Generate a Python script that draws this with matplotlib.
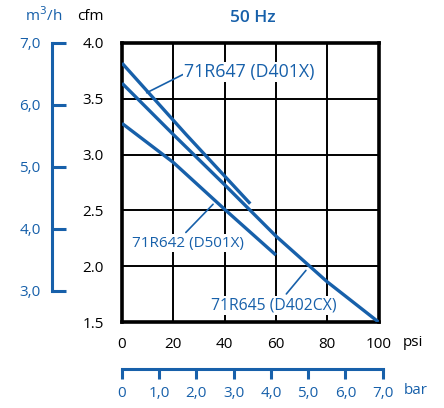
import numpy as np
import matplotlib.pyplot as plt

plt.rcParams['font.family'] = ['Open Sans', 'DejaVu Sans']

blue = '#1760aa'
W, H = 444, 408

# curves (psi, cfm)
psi_647 = [0, 25, 50]
cfm_647 = [3.82, 3.18, 2.56]
psi_642 = [0, 20, 40, 60]
cfm_642 = [3.28, 2.93, 2.51, 2.10]
psi_645 = [0, 20, 40, 60, 80, 100]
cfm_645 = [3.64, 3.18, 2.73, 2.27, 1.86, 1.5]

psi_ticks = [0, 20, 40, 60, 80, 100]
cfm_ticks = [1.5, 2.0, 2.5, 3.0, 3.5, 4.0]
m3h_ticks = [3.0, 4.0, 5.0, 6.0, 7.0]
bar_ticks = [0, 1, 2, 3, 4, 5, 6, 7]


def box(x0, y0, x1, y1):
    # pixel box (top-left origin) -> figure fraction
    return [x0 / W, 1 - y1 / H, (x1 - x0) / W, (y1 - y0) / H]


fig = plt.figure(figsize=(W / 100, H / 100), dpi=100)

ax = fig.add_axes(box(122, 43, 378.5, 322))
ax.plot(psi_647, cfm_647, color=blue, lw=2.4, solid_capstyle='butt', zorder=3)
ax.plot(psi_642, cfm_642, color=blue, lw=2.4, solid_capstyle='butt', zorder=3)
ax.plot(psi_645, cfm_645, color=blue, lw=2.4, solid_capstyle='butt', zorder=3)
ax.set_xlim(0, 100)
ax.set_ylim(1.5, 4.0)
ax.set_xticks(psi_ticks)
ax.set_yticks(cfm_ticks)
ax.set_yticklabels(['%.1f' % v for v in cfm_ticks])
ax.tick_params(length=0, labelsize=11, colors='black')
ax.tick_params(axis='y', pad=13)
ax.tick_params(axis='x', pad=11)
ax.grid(True, color='black', lw=1.4)
for s in ax.spines.values():
    s.set_linewidth(2.6)
    s.set_color('black')

lbl_bg = dict(facecolor='white', edgecolor='none', pad=1)
ax.annotate('71R647 (D401X)', xy=(9.6, 3.554), xytext=(24.3, 3.74),
            color=blue, fontsize=12.8, va='center', ha='left', bbox=lbl_bg, zorder=4,
            arrowprops=dict(arrowstyle='-', color=blue, lw=1.2, shrinkA=0, shrinkB=0,
                            relpos=(0, 0.4)))
ax.annotate('71R642 (D501X)', xy=(35.5, 2.555), xytext=(25.8, 2.205),
            color=blue, fontsize=11, va='center', ha='center', bbox=lbl_bg, zorder=4,
            arrowprops=dict(arrowstyle='-', color=blue, lw=1.2, shrinkA=2, shrinkB=0,
                            relpos=(0.45, 1)))
ax.annotate('71R645 (D402CX)', xy=(71.7, 1.962), xytext=(59, 1.648),
            color=blue, fontsize=11.3, va='center', ha='center', bbox=lbl_bg, zorder=4,
            arrowprops=dict(arrowstyle='-', color=blue, lw=1.2, shrinkA=2, shrinkB=0,
                            relpos=(0.58, 1)))

# blue m3/h scale on the left
axm = fig.add_axes(box(51.7, 43, 60, 291))
axm.set_ylim(3.0, 7.0)
axm.set_yticks(m3h_ticks)
axm.set_xticks([])
for k in ['top', 'right', 'bottom']:
    axm.spines[k].set_visible(False)
axm.spines['left'].set_color(blue)
axm.spines['left'].set_linewidth(2.2)
axm.patch.set_visible(False)
axm.tick_params(axis='y', direction='in', length=10, width=2.2, colors=blue,
                labelsize=11, pad=8)
axm.set_yticklabels([('%.1f' % v).replace('.', ',') for v in m3h_ticks])

# blue bar scale at the bottom
axb = fig.add_axes(box(121.7, 360, 382.7, 369.3))
axb.set_xlim(0, 7)
axb.set_xticks(bar_ticks)
axb.set_xticklabels(['0'] + [('%.1f' % v).replace('.', ',') for v in bar_ticks[1:]])
axb.set_yticks([])
for k in ['top', 'right', 'left']:
    axb.spines[k].set_visible(False)
axb.spines['bottom'].set_color(blue)
axb.spines['bottom'].set_linewidth(2.2)
axb.patch.set_visible(False)
axb.tick_params(axis='x', direction='out', length=7, width=2.2, colors=blue,
                labelsize=11, pad=5)

fig.text(253 / W, 1 - 18 / H, '50 Hz', color=blue, fontsize=12.5, fontweight='semibold',
         ha='center', va='center')
fig.text(44 / W, 1 - 16 / H, 'm$^3$/h', color=blue, fontsize=11, ha='center', va='center')
fig.text(90 / W, 1 - 16 / H, 'cfm', color='black', fontsize=11, ha='center', va='center')
fig.text(403 / W, 1 - 343 / H, 'psi', color='black', fontsize=11, ha='left', va='center')
fig.text(404 / W, 1 - 390 / H, 'bar', color=blue, fontsize=11, ha='left', va='center')

fig.savefig('out.png', dpi=100)
